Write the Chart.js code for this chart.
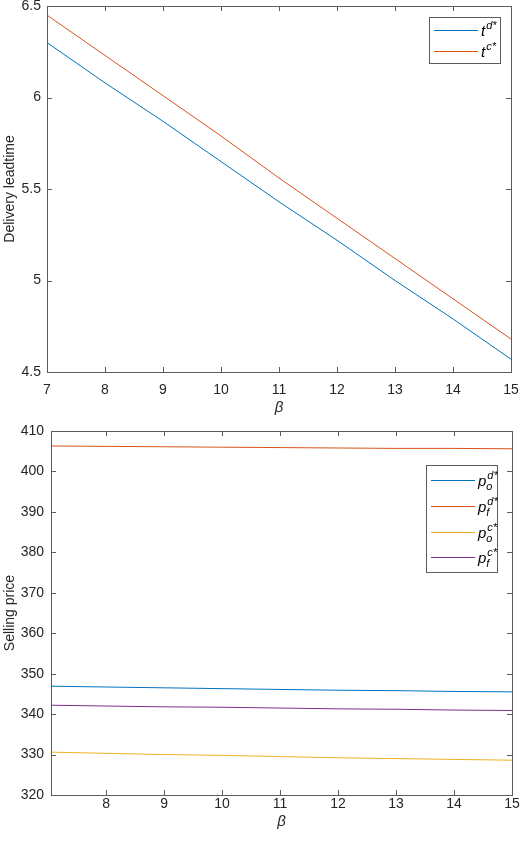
<!DOCTYPE html>
<html>
<head>
<meta charset="utf-8">
<script src="https://cdn.jsdelivr.net/npm/chart.js@4"></script>
<style>
  body { margin: 0; background: #fff; width: 520px; height: 841px; overflow: hidden; }
  canvas { position: absolute; left: 0; }
  #graficoTempo { top: 0; }
  #graficoPreco { top: 420px; }
</style>
</head>
<body>
<canvas id="graficoTempo" width="520" height="420"></canvas>
<canvas id="graficoPreco" width="520" height="421"></canvas>
<script>
// top plot: delivery leadtime vs beta
const betaTop = [7, 8, 9, 10, 11, 12, 13, 14, 15];
const tD = [6.30, 6.08, 5.87, 5.65, 5.43, 5.22, 5.00, 4.79, 4.57];
const tC = [6.45, 6.23, 6.01, 5.79, 5.56, 5.34, 5.12, 4.90, 4.68];
const xTicksTop = [7, 8, 9, 10, 11, 12, 13, 14, 15];
const yTicksTop = [4.5, 5, 5.5, 6, 6.5];

// bottom plot: selling price vs beta
const betaBottom = [7.05, 8, 9, 10, 11, 12, 13, 14, 15];
const poD = [346.9, 346.7, 346.5, 346.3, 346.1, 345.9, 345.8, 345.6, 345.5];
const pfD = [406.3, 406.2, 406.1, 406.0, 405.9, 405.8, 405.7, 405.7, 405.6];
const poC = [330.6, 330.3, 330.0, 329.8, 329.5, 329.2, 329.0, 328.8, 328.6];
const pfC = [342.2, 342.0, 341.8, 341.7, 341.5, 341.3, 341.2, 341.0, 340.9];
const xTicksBottom = [8, 9, 10, 11, 12, 13, 14, 15];
const yTicksBottom = [320, 330, 340, 350, 360, 370, 380, 390, 400, 410];

const azul = '#0072BD', vermelho = '#D95319', amarelo = '#EDB120', roxo = '#7E2F8E';
const eixoCor = '#262626';
const caixaCor = '#5c5c5c';
const fonte = 'Liberation Sans, Arial, sans-serif';

function pares(xs, ys) {
  return xs.map((x, i) => ({ x: x, y: ys[i] }));
}

function serie(label, xs, ys, cor, base, sub, sup) {
  return {
    label: label,
    data: pares(xs, ys),
    borderColor: cor,
    backgroundColor: cor,
    borderWidth: 1,
    pointRadius: 0,
    tension: 0,
    legBase: base, legSub: sub, legSup: sup
  };
}

// labels may hang outside the plot area, like matlab does
function semSobra(s) {
  s.paddingTop = 0; s.paddingBottom = 0;
  s.paddingLeft = 0; s.paddingRight = 0;
}

// box around the plot + inward ticks, like matlab
const caixa = {
  id: 'caixa',
  afterDraw(chart) {
    const c = chart.ctx, a = chart.chartArea;
    const sx = chart.scales.x, sy = chart.scales.y;
    c.save();
    c.strokeStyle = caixaCor;
    c.lineWidth = 1;
    c.strokeRect(Math.round(a.left) + 0.5, Math.round(a.top) + 0.5,
      Math.round(a.right - a.left), Math.round(a.bottom - a.top));
    c.beginPath();
    sx.ticks.forEach(t => {
      const px = Math.round(sx.getPixelForValue(t.value)) + 0.5;
      c.moveTo(px, a.bottom); c.lineTo(px, a.bottom - 5);
      c.moveTo(px, a.top); c.lineTo(px, a.top + 5);
    });
    sy.ticks.forEach(t => {
      const py = Math.round(sy.getPixelForValue(t.value)) + 0.5;
      c.moveTo(a.left, py); c.lineTo(a.left + 5, py);
      c.moveTo(a.right, py); c.lineTo(a.right - 5, py);
    });
    c.stroke();
    c.restore();
  }
};

// legend with sub/superscripts drawn by hand
const legenda = {
  id: 'legenda',
  afterDraw(chart, args, opts) {
    const c = chart.ctx;
    const ds = chart.data.datasets;
    c.save();
    c.fillStyle = '#fff';
    c.fillRect(opts.x, opts.y, opts.w, opts.h);
    c.strokeStyle = caixaCor;
    c.lineWidth = 1;
    c.strokeRect(opts.x + 0.5, opts.y + 0.5, opts.w, opts.h);
    ds.forEach((d, i) => {
      const y = Math.round(opts.y + opts.first + i * opts.step) + 0.5;
      c.strokeStyle = d.borderColor;
      c.beginPath();
      c.moveTo(opts.x + 5, y);
      c.lineTo(opts.x + 49, y);
      c.stroke();
      c.fillStyle = '#000';
      c.textBaseline = 'alphabetic';
      c.font = 'italic 15px ' + fonte;
      const tx = opts.x + 52;
      c.fillText(d.legBase, tx, y + 5);
      const w = c.measureText(d.legBase).width;
      c.font = 'italic 11px ' + fonte;
      if (d.legSup) c.fillText(d.legSup, tx + w + 1, y - 2);
      if (d.legSub) c.fillText(d.legSub, tx + w, y + 9);
    });
    c.restore();
  }
};

function eixos(xTicks, yTicks, xMin, xMax, yMin, yMax, yTitulo, yWidth, xHeight, xPad, yPad, xTitlePad) {
  return {
    x: {
      type: 'linear', min: xMin, max: xMax,
      afterBuildTicks: s => { s.ticks = xTicks.map(v => ({ value: v })); },
      afterFit: s => { s.height = xHeight; semSobra(s); },
      grid: { display: false, drawTicks: false },
      border: { display: false },
      ticks: { color: eixoCor, font: { family: fonte, size: 14 }, padding: xPad, maxRotation: 0,
        callback: v => String(v) },
      title: { display: true, text: 'β', color: eixoCor,
        font: { family: fonte, size: 15, style: 'italic' }, padding: xTitlePad }
    },
    y: {
      type: 'linear', min: yMin, max: yMax,
      afterBuildTicks: s => { s.ticks = yTicks.map(v => ({ value: v })); },
      afterFit: s => { s.width = yWidth; semSobra(s); },
      grid: { display: false, drawTicks: false },
      border: { display: false },
      ticks: { color: eixoCor, font: { family: fonte, size: 14 }, padding: yPad,
        callback: v => String(v) },
      title: { display: true, text: yTitulo, color: eixoCor,
        font: { family: fonte, size: 14 }, padding: { top: 2, bottom: 0 } }
    }
  };
}

new Chart(document.getElementById('graficoTempo').getContext('2d'), {
  type: 'line',
  data: {
    datasets: [
      serie('t d*', betaTop, tD, azul, 't', '', 'd*'),
      serie('t c*', betaTop, tC, vermelho, 't', '', 'c*')
    ]
  },
  options: {
    responsive: false,
    animation: false,
    layout: { padding: { top: 6, right: 9, left: 0, bottom: 0 } },
    plugins: {
      legend: { display: false },
      tooltip: { enabled: false },
      legenda: { x: 429, y: 17, w: 71, h: 46, first: 13, step: 21 }
    },
    scales: eixos(xTicksTop, yTicksTop, 7, 15, 4.5, 6.5, 'Delivery leadtime', 47, 48, 10, 6, { top: 0, bottom: 3 })
  },
  plugins: [caixa, legenda]
});

new Chart(document.getElementById('graficoPreco').getContext('2d'), {
  type: 'line',
  data: {
    datasets: [
      serie('po d*', betaBottom, poD, azul, 'p', 'o', 'd*'),
      serie('pf d*', betaBottom, pfD, vermelho, 'p', 'f', 'd*'),
      serie('po c*', betaBottom, poC, amarelo, 'p', 'o', 'c*'),
      serie('pf c*', betaBottom, pfC, roxo, 'p', 'f', 'c*')
    ]
  },
  options: {
    responsive: false,
    animation: false,
    layout: { padding: { top: 11, right: 8, left: 0, bottom: 0 } },
    plugins: {
      legend: { display: false },
      tooltip: { enabled: false },
      legenda: { x: 426, y: 45, w: 71, h: 107, first: 15, step: 25.8 }
    },
    scales: eixos(xTicksBottom, yTicksBottom, 7.05, 15, 320, 410, 'Selling price', 51, 46, 1, 7, { top: 0, bottom: 10 })
  },
  plugins: [caixa, legenda]
});
</script>
</body>
</html>
